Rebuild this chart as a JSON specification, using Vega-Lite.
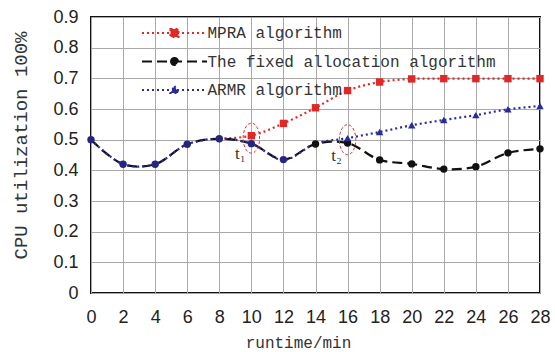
{
  "$schema": "https://vega.github.io/schema/vega-lite/v6.json",
  "width": 449,
  "height": 276,
  "autosize": {"type": "none"},
  "padding": {"left": 91, "top": 17, "right": 15, "bottom": 59},
  "background": "white",
  "config": {
    "view": {"stroke": "#111", "strokeWidth": 2},
    "axis": {
      "domain": false, "tickSize": 0,
      "labelFont": "Liberation Sans", "labelFontSize": 18, "labelColor": "#222",
      "titleFont": "Liberation Mono", "titleFontWeight": "normal", "titleColor": "#333"
    }
  },
  "datasets": {
    "series": [
      {"s": "MPRA algorithm", "t": 8, "u": 0.503},
      {"s": "MPRA algorithm", "t": 10, "u": 0.513},
      {"s": "MPRA algorithm", "t": 12, "u": 0.553},
      {"s": "MPRA algorithm", "t": 14, "u": 0.604},
      {"s": "MPRA algorithm", "t": 16, "u": 0.66},
      {"s": "MPRA algorithm", "t": 18, "u": 0.688},
      {"s": "MPRA algorithm", "t": 20, "u": 0.698},
      {"s": "MPRA algorithm", "t": 22, "u": 0.699},
      {"s": "MPRA algorithm", "t": 24, "u": 0.699},
      {"s": "MPRA algorithm", "t": 26, "u": 0.699},
      {"s": "MPRA algorithm", "t": 28, "u": 0.699},
      {"s": "The fixed allocation algorithm", "t": 0, "u": 0.5},
      {"s": "The fixed allocation algorithm", "t": 2, "u": 0.42},
      {"s": "The fixed allocation algorithm", "t": 4, "u": 0.42},
      {"s": "The fixed allocation algorithm", "t": 6, "u": 0.485},
      {"s": "The fixed allocation algorithm", "t": 8, "u": 0.503},
      {"s": "The fixed allocation algorithm", "t": 10, "u": 0.487},
      {"s": "The fixed allocation algorithm", "t": 12, "u": 0.435},
      {"s": "The fixed allocation algorithm", "t": 14, "u": 0.486},
      {"s": "The fixed allocation algorithm", "t": 16, "u": 0.489},
      {"s": "The fixed allocation algorithm", "t": 18, "u": 0.434},
      {"s": "The fixed allocation algorithm", "t": 20, "u": 0.421},
      {"s": "The fixed allocation algorithm", "t": 22, "u": 0.404},
      {"s": "The fixed allocation algorithm", "t": 24, "u": 0.412},
      {"s": "The fixed allocation algorithm", "t": 26, "u": 0.457},
      {"s": "The fixed allocation algorithm", "t": 28, "u": 0.47},
      {"s": "ARMR algorithm", "t": 0, "u": 0.5},
      {"s": "ARMR algorithm", "t": 2, "u": 0.42},
      {"s": "ARMR algorithm", "t": 4, "u": 0.42},
      {"s": "ARMR algorithm", "t": 6, "u": 0.485},
      {"s": "ARMR algorithm", "t": 8, "u": 0.503},
      {"s": "ARMR algorithm", "t": 10, "u": 0.487},
      {"s": "ARMR algorithm", "t": 12, "u": 0.434},
      {"s": "ARMR algorithm", "t": 14, "u": 0.487},
      {"s": "ARMR algorithm", "t": 16, "u": 0.505},
      {"s": "ARMR algorithm", "t": 18, "u": 0.525},
      {"s": "ARMR algorithm", "t": 20, "u": 0.547},
      {"s": "ARMR algorithm", "t": 22, "u": 0.564},
      {"s": "ARMR algorithm", "t": 24, "u": 0.58},
      {"s": "ARMR algorithm", "t": 26, "u": 0.599},
      {"s": "ARMR algorithm", "t": 28, "u": 0.61}
    ],
    "notes": [
      {"t": 10, "u": 0.505, "label": "t₁"},
      {"t": 16, "u": 0.5, "label": "t₂"}
    ]
  },
  "encoding": {
    "x": {
      "field": "t", "type": "quantitative",
      "scale": {"domain": [0, 28], "nice": false},
      "axis": {
        "values": [0, 2, 4, 6, 8, 10, 12, 14, 16, 18, 20, 22, 24, 26, 28],
        "grid": true, "gridColor": "#a8a8a8", "gridWidth": 1,
        "labelOverlap": false, "labelFlush": false,
        "labelPadding": 15, "title": "runtime/min", "titleFontSize": 16,
        "titleX": 207, "titleY": 54, "titleBaseline": "alphabetic", "titleAlign": "center"
      }
    },
    "y": {
      "field": "u", "type": "quantitative",
      "scale": {"domain": [0, 0.9], "nice": false},
      "axis": {
        "values": [0, 0.1, 0.2, 0.3, 0.4, 0.5, 0.6, 0.7, 0.8, 0.9],
        "grid": true, "gridColor": "#a8a8a8", "gridWidth": 1,
        "labelOverlap": false, "labelFlush": false,
        "format": ".1~f", "labelPadding": 13,
        "title": "CPU utilization 100%", "titleFontSize": 19,
        "titleX": -71, "titleY": 128, "titleAlign": "center", "titleBaseline": "middle", "titleAngle": -90
      }
    }
  },
  "layer": [
    {
      "data": {"name": "series"},
      "mark": {"type": "line", "interpolate": "catmull-rom", "strokeWidth": 2.2},
      "encoding": {
        "color": {
          "field": "s", "type": "nominal",
          "scale": {
            "domain": ["MPRA algorithm", "The fixed allocation algorithm", "ARMR algorithm"],
            "range": ["#e02828", "#111111", "#2a2a9a"]
          },
          "legend": {
            "title": null, "orient": "none", "legendX": 75.5, "legendY": 8, "padding": 0,
            "symbolSize": 100, "symbolStrokeWidth": 2, "labelOffset": 25, "rowPadding": 12.5,
            "labelFont": "Liberation Mono", "labelFontSize": 16, "labelColor": "#333", "labelLimit": 400,
            "encode": {
              "symbols": {
                "update": {
                  "shape": {"signal": "datum.value === 'MPRA algorithm' ? 'M-6.5,0L6.5,0M-0.8,-0.8L0.8,-0.8L0.8,0.8L-0.8,0.8Z' : (datum.value === 'ARMR algorithm' ? 'M-6.5,0L6.5,0M0,-0.8L0.8,0.6L-0.8,0.6Z' : 'M-6.5,0L6.5,0M-0.7,0A0.7,0.7 0 1,1 0.7,0A0.7,0.7 0 1,1 -0.7,0Z')"},
                  "strokeDash": {"signal": "datum.value === 'The fixed allocation algorithm' ? [10, 5] : [2, 3]"},
                  "fill": {"scale": "color", "field": "value"},
                  "stroke": {"scale": "color", "field": "value"},
                  "opacity": {"value": 1},
                  "fillOpacity": {"value": 1}
                }
              }
            }
          }
        },
        "strokeDash": {
          "field": "s", "type": "nominal",
          "scale": {
            "domain": ["MPRA algorithm", "The fixed allocation algorithm", "ARMR algorithm"],
            "range": [[2, 3], [10, 5], [2, 3]]
          },
          "legend": null
        }
      }
    },
    {
      "data": {"name": "series"},
      "transform": [{"filter": "datum.s === 'MPRA algorithm' && datum.t >= 10"}],
      "mark": {"type": "point", "filled": true, "opacity": 1, "size": 55, "shape": "square", "color": "#e02828"}
    },
    {
      "data": {"name": "series"},
      "transform": [{"filter": "datum.s === 'The fixed allocation algorithm'"}],
      "mark": {"type": "point", "filled": true, "opacity": 1, "size": 55, "shape": "circle"},
      "encoding": {
        "color": {"condition": {"test": "datum.t <= 12", "value": "#262680"}, "value": "#111111"}
      }
    },
    {
      "data": {"name": "series"},
      "transform": [{"filter": "datum.s === 'ARMR algorithm' && datum.t >= 16"}],
      "mark": {"type": "point", "filled": true, "opacity": 1, "size": 55, "shape": "triangle-up", "color": "#2a2a9a"}
    },
    {
      "data": {"name": "notes"},
      "mark": {
        "type": "point", "filled": false, "size": 900, "stroke": "#e03030", "strokeWidth": 1,
        "strokeDash": [3, 2], "opacity": 1,
        "shape": "M-0.55,0A0.55,1 0 1,1 0.55,0A0.55,1 0 1,1 -0.55,0Z"
      }
    },
    {
      "data": {"name": "notes"},
      "mark": {"type": "text", "dx": -11, "dy": 16, "font": "Liberation Serif", "fontSize": 17, "color": "#333"},
      "encoding": {
        "text": {"field": "label"}
      }
    }
  ]
}
